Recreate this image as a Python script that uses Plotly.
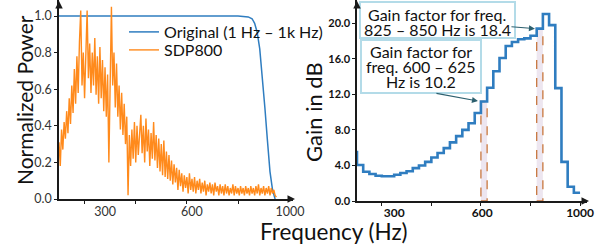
import plotly.graph_objects as go

# ---------------- data ----------------
orig_freq = [100, 300, 500, 700, 800, 840, 855, 865, 875, 885, 895, 905, 915, 925, 935, 945]
orig_power = [1.0, 1.0, 1.0, 1.0, 1.0, 0.995, 0.985, 0.96, 0.91, 0.82, 0.68, 0.50, 0.32, 0.15, 0.05, 0.0]

sdp_freq = list(range(100, 955, 5))
sdp_power = [
    0.31, 0.18, 0.38, 0.27, 0.42, 0.33, 0.48, 0.36, 0.55, 0.41,
    0.62, 0.47, 0.71, 0.52, 0.78, 0.58, 0.86, 1.03, 0.62, 0.80,
    0.55, 0.74, 1.03, 0.66, 0.85, 0.58, 0.80, 0.62, 0.88, 0.57,
    0.78, 0.52, 0.83, 0.55, 0.76, 0.48, 0.72, 0.45, 0.68, 0.20,
    0.60, 1.05, 0.62, 0.80, 0.50, 0.74, 0.45, 0.62, 0.38, 0.58,
    0.35, 0.52, 0.30, 0.45, 0.02, 0.35, 0.18, 0.38, 0.22, 0.42,
    0.20, 0.40, 0.24, 0.38, 0.46, 0.25, 0.40, 0.20, 0.44, 0.26,
    0.38, 0.18, 0.36, 0.22, 0.42, 0.21, 0.35, 0.17, 0.33, 0.15,
    0.30, 0.13, 0.32, 0.12, 0.26, 0.11, 0.24, 0.10, 0.21, 0.08,
    0.19, 0.09, 0.17, 0.05, 0.16, 0.07, 0.14, 0.04, 0.13, 0.06,
    0.12, 0.03, 0.14, 0.05, 0.11, 0.04, 0.12, 0.03, 0.10, 0.05,
    0.11, 0.03, 0.09, 0.04, 0.10, 0.02, 0.08, 0.04, 0.09, 0.03,
    0.08, 0.02, 0.09, 0.04, 0.07, 0.02, 0.08, 0.03, 0.07, 0.02,
    0.08, 0.03, 0.07, 0.02, 0.06, 0.03, 0.08, 0.02, 0.07, 0.03,
    0.06, 0.02, 0.07, 0.03, 0.06, 0.02, 0.07, 0.03, 0.06, 0.02,
    0.07, 0.03, 0.06, 0.02, 0.07, 0.03, 0.08, 0.02, 0.06, 0.03,
    0.07, 0.02, 0.06, 0.03, 0.07, 0.02, 0.06, 0.03, 0.05, 0.02,
    0.01,
]

gain_bin_start = [75, 100, 125, 150, 175, 200, 225, 250, 275, 300, 325, 350, 375,
                  400, 425, 450, 475, 500, 525, 550, 575, 600, 625, 650, 675, 700,
                  725, 750, 775, 800, 825, 850, 875, 900, 925, 950, 975, 1000]
gain_db = [5.5, 4.05, 3.3, 3.04, 2.85, 2.78, 2.78, 2.96, 3.15, 3.34, 3.7, 4.0, 4.4,
           4.9, 5.4, 5.95, 6.6, 7.3, 8.0, 8.75, 9.9, 11.2, 12.75, 14.6, 16.1, 17.45,
           17.9, 18.2, 18.3, 18.6, 19.4, 21.05, 19.8, 12.7, 4.4, 1.6, 0.93, 0.93]

band_low = [600, 825]
band_high = [625, 850]

x_tick_labels = ['300', '600', '1000']
left_y_ticks = [0.0, 0.2, 0.4, 0.6, 0.8, 1.0]
right_y_ticks = [0, 4, 8, 12, 16, 20]

box1_lines = ['Gain factor for freq.', '825 – 850 Hz is 18.4']
box2_lines = ['Gain factor for', 'freq. 600 – 625', 'Hz is 10.2']

# ---------------- layout helpers ----------------
W, H = 606, 249
FONT = 'Lato'
def fx(p):
    return p / W
def fy(p):
    return 1 - p / H

BLUE = '#2f7dc0'
ORANGE = '#ff8a1c'
AX = '#1a1a1a'

fig = go.Figure()
fig.add_trace(go.Scatter(x=orig_freq, y=orig_power, mode='lines',
                         name='Original (1 Hz – 1k Hz)', legend='legend',
                         line=dict(color=BLUE, width=1.5), xaxis='x', yaxis='y'))
fig.add_trace(go.Scatter(x=sdp_freq, y=sdp_power, mode='lines', name='SDP800',
                         legend='legend2',
                         line=dict(color=ORANGE, width=1.4), xaxis='x', yaxis='y'))
fig.add_trace(go.Scatter(x=gain_bin_start, y=gain_db, mode='lines', line_shape='hv',
                         line=dict(color=BLUE, width=2.6), showlegend=False,
                         xaxis='x2', yaxis='y2'))

axis_common = dict(showline=True, linecolor=AX, linewidth=1.5, showgrid=False,
                   zeroline=False, automargin=False)
legend_common = dict(xanchor='left', yanchor='middle', bgcolor='rgba(0,0,0,0)',
                     font=dict(size=16, color='#111'), itemwidth=30,
                     borderwidth=0)

fig.update_layout(
    width=W, height=H,
    margin=dict(l=0, r=0, t=0, b=0, pad=0),
    paper_bgcolor='white', plot_bgcolor='white',
    font=dict(family=FONT, color='#111'),
    xaxis=dict(domain=[fx(59), fx(293)], range=[100, 1015], anchor='y',
               tickmode='array', tickvals=[280, 620, 1003], ticktext=x_tick_labels,
               ticks='', tickfont=dict(size=12.5, color='#333'),
               minor=dict(tickmode='array', tickvals=[200, 400, 600, 800], ticks='outside',
                          ticklen=3, tickcolor=AX), **axis_common),
    yaxis=dict(domain=[fy(199), 1], range=[0, 199 / 183], anchor='x',
               tickmode='array', tickvals=left_y_ticks, tickformat='.1f',
               ticks='outside', ticklen=3, tickcolor=AX,
               tickfont=dict(size=12.5, color='#333'), **axis_common),
    xaxis2=dict(domain=[fx(357), fx(587)], range=[100, 1028], anchor='y2',
                tickmode='array', tickvals=[250, 605, 1000], ticktext=x_tick_labels,
                ticks='', tickfont=dict(size=12, color='#111', weight='bold'),
                minor=dict(tickmode='array', tickvals=[200, 400, 600, 800, 1000], ticks='outside',
                           ticklen=3, tickcolor=AX), **axis_common),
    yaxis2=dict(domain=[fy(201), 1], range=[0, 201 / 8.885], anchor='x2',
                tickmode='array', tickvals=right_y_ticks, tickformat='.1f',
                ticks='outside', ticklen=3, tickcolor=AX,
                tickfont=dict(size=11, color='#111', weight='bold'), **axis_common),
    legend=dict(x=fx(124), y=fy(32), **legend_common),
    legend2=dict(x=fx(124), y=fy(50), **legend_common),
    showlegend=True,
)

# highlighted bands from data
shapes = []
for lo, hi in zip(band_low, band_high):
    top = gain_db[gain_bin_start.index(lo)]
    shapes.append(dict(type='rect', xref='x2', yref='y2', x0=lo, x1=hi, y0=0, y1=top,
                       fillcolor='#ede6f0', line=dict(color='#c8773f', width=1.3, dash='dash'),
                       layer='below'))
# text boxes
shapes.append(dict(type='rect', xref='paper', yref='paper', x0=fx(360), x1=fx(515),
                   y0=fy(38), y1=fy(2), fillcolor='white',
                   line=dict(color='#b3dbe8', width=2), layer='above'))
shapes.append(dict(type='rect', xref='paper', yref='paper', x0=fx(361), x1=fx(481),
                   y0=fy(93), y1=fy(40), fillcolor='white',
                   line=dict(color='#b3dbe8', width=2), layer='above'))
fig.update_layout(shapes=shapes)

ann = []
def text(t, x, y, size=16, angle=0):
    ann.append(dict(text=t, xref='paper', yref='paper', x=fx(x), y=fy(y),
                    xanchor='center', yanchor='middle', showarrow=False,
                    textangle=angle, font=dict(size=size, color='#111', family=FONT)))

for t, y in zip(box1_lines, [14.5, 29.5]):
    text(t, 437, y, 16)
for t, y in zip(box2_lines, [51.5, 66.5, 81.5]):
    text(t, 421, y, 16)

text('Normalized Power', 24, 100, 21, -90)
text('Gain in dB', 313, 112, 22, -90)
text('Frequency (Hz)', 334, 231, 22.5)

# pointer arrows
ann.append(dict(text='', xref='x2', yref='y2', x=818, y=19.4, ax=-25, ay=-2,
                showarrow=True, arrowhead=2, arrowsize=1, arrowwidth=1.2,
                arrowcolor='#2c5f6e', standoff=0))
ann.append(dict(text='', xref='x2', yref='y2', x=588, y=11.25, ax=-43, ay=-8,
                showarrow=True, arrowhead=2, arrowsize=1, arrowwidth=1.2,
                arrowcolor='#2c5f6e', standoff=0))

# axis arrowheads
def axis_arrow(x, y, ax, ay):
    ann.append(dict(text='', xref='paper', yref='paper', x=fx(x), y=fy(y), ax=ax, ay=ay,
                    showarrow=True, arrowhead=2, arrowsize=1, arrowwidth=1.5,
                    arrowcolor=AX, standoff=0))
axis_arrow(59, 0, 0, 8)
axis_arrow(295, 199, -8, 0)
axis_arrow(357, 0, 0, 8)
axis_arrow(589, 201, -8, 0)

fig.update_layout(annotations=ann)
fig.write_html('out.html', config={'displayModeBar': False},
               post_script="document.body.style.margin='0';document.body.style.overflow='hidden';")
